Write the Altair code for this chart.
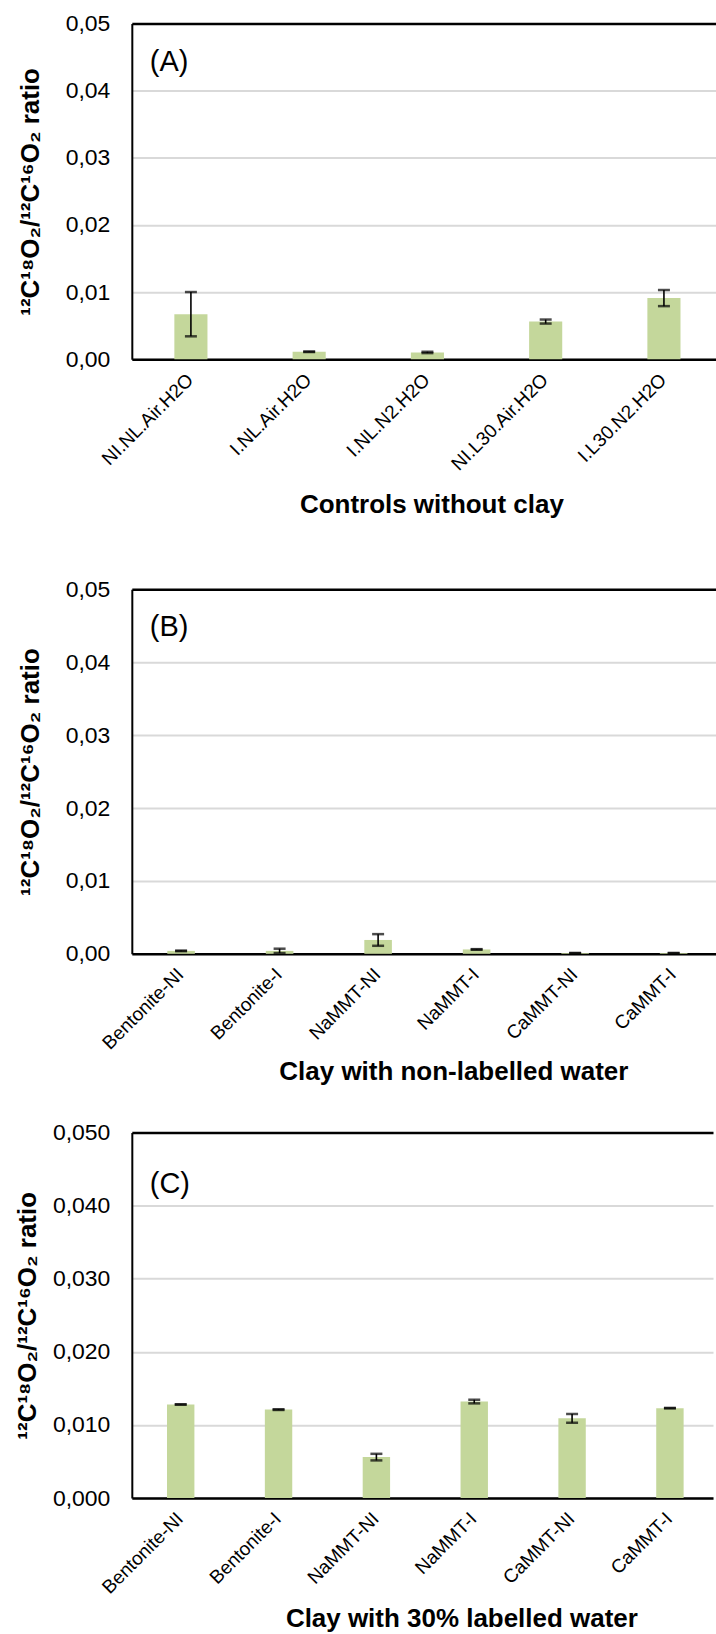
import altair as alt
import pandas as pd

FONT = "Liberation Sans"
BAR_GREEN = "#c4d79b"
GRID_GREY = "#d9d9d9"
Y_TITLE = "¹²C¹⁸O₂/¹²C¹⁶O₂ ratio"
Y_TICKS = [0.0, 0.01, 0.02, 0.03, 0.04, 0.05]

# (A) controls without clay
control_samples = ["NI.NL.Air.H2O", "I.NL.Air.H2O", "I.NL.N2.H2O", "NI.L30.Air.H2O", "I.L30.N2.H2O"]
control_ratio = [0.0067, 0.0011, 0.0010, 0.0056, 0.0091]
control_sd = [0.0033, 0.00004, 0.0001, 0.0003, 0.0012]

# (B) and (C) clay samples
clay_samples = ["Bentonite-NI", "Bentonite-I", "NaMMT-NI", "NaMMT-I", "CaMMT-NI", "CaMMT-I"]
nonlabelled_ratio = [0.0004, 0.0004, 0.0019, 0.0006, 0.0001, 0.0001]
nonlabelled_sd = [0.00004, 0.0003, 0.0008, 0.00004, 0.0, 0.0]
labelled_ratio = [0.0128, 0.0121, 0.0056, 0.0132, 0.0109, 0.0123]
labelled_sd = [0.00003, 0.00005, 0.00045, 0.00025, 0.0006, 0.00003]


def panel(samples, ratio, sd, tag, x_title, decimals, width, height,
          pad_outer, band_align, x_extent, x_title_pad, x_title_x, tag_y, y_extent):
    df = pd.DataFrame({"sample": samples, "ratio": ratio, "sd": sd})

    x_axis = alt.Axis(
        labelAngle=-45, labelAlign="right", labelBaseline="top",
        labelFont=FONT, labelFontSize=19, labelColor="black",
        labelPadding=11, labelOffset=-7,
        labelOverlap=False, ticks=False,
        domainColor="black", domainWidth=2.5,
        titleFont=FONT, titleFontSize=26, titleFontWeight="bold", titleColor="black",
        titlePadding=x_title_pad, titleX=x_title_x,
        minExtent=x_extent, maxExtent=x_extent,
    )
    # the top gridline doubles as the upper frame of the plot
    y_axis = alt.Axis(
        values=Y_TICKS,
        labelExpr=f"replace(format(datum.value, '.{decimals}f'), '.', ',')",
        labelFont=FONT, labelFontSize=23, labelColor="black", labelPadding=22,
        ticks=False, domainColor="black", domainWidth=2,
        grid=True,
        gridColor=alt.condition("datum.value >= 0.05", alt.value("black"), alt.value(GRID_GREY)),
        gridWidth=alt.condition("datum.value >= 0.05", alt.value(2.5), alt.value(2)),
        titleFont=FONT, titleFontSize=26, titleFontWeight="bold", titleColor="black",
        titlePadding=18, minExtent=y_extent, maxExtent=y_extent,
    )
    x_enc = alt.X("sample:N", sort=samples, title=x_title, axis=x_axis,
                  scale=alt.Scale(paddingInner=0.72, paddingOuter=pad_outer,
                                  align=band_align))
    y_scale = alt.Scale(domain=[0, 0.05], nice=False)

    def y_enc(field):
        return alt.Y(field, title=Y_TITLE, axis=y_axis, scale=y_scale)

    base = alt.Chart(df)
    bars = base.mark_bar(color=BAR_GREEN).encode(x=x_enc, y=y_enc("ratio:Q"))
    whisker = base.transform_calculate(
        lo="datum.ratio - datum.sd", hi="datum.ratio + datum.sd"
    )
    stem = whisker.mark_rule(color="black", strokeWidth=1.6).encode(
        x=x_enc, y=y_enc("lo:Q"), y2="hi:Q"
    )
    cap_lo = whisker.mark_tick(color="black", size=12, thickness=2.5).encode(
        x=x_enc, y=y_enc("lo:Q")
    )
    cap_hi = whisker.mark_tick(color="black", size=12, thickness=2.5).encode(
        x=x_enc, y=y_enc("hi:Q")
    )
    tag_text = alt.Chart(pd.DataFrame({"tag": [tag]})).mark_text(
        font=FONT, fontSize=29, color="black", align="left", baseline="middle"
    ).encode(x=alt.value(18), y=alt.value(tag_y), text="tag:N")

    return alt.layer(bars, stem, cap_lo, cap_hi, tag_text).properties(
        width=width, height=height
    )


panel_a = panel(control_samples, control_ratio, control_sd, "(A)",
                "Controls without clay", 2, 585, 336, 0.33, 0.545,
                120, 13, 300, 38, 70)
panel_b = panel(clay_samples, nonlabelled_ratio, nonlabelled_sd, "(B)",
                "Clay with non-labelled water", 2, 585, 365, 0.325, 0.554,
                95, 10, 322, 38, 70)
panel_c = panel(clay_samples, labelled_ratio, labelled_sd, "(C)",
                "Clay with 30% labelled water", 3, 582, 366, 0.33, 0.545,
                100, 8, 330, 52, 73)

chart = alt.vconcat(
    alt.vconcat(panel_a, panel_b, spacing=60.5),
    panel_c,
    spacing=36.5,
).properties(
    padding={"left": 15, "top": 11.5, "right": 0, "bottom": 0},
    background="white",
).configure_view(
    stroke="transparent", strokeWidth=0
)

chart.save("out.html", embed_options={"renderer": "svg", "actions": False})
